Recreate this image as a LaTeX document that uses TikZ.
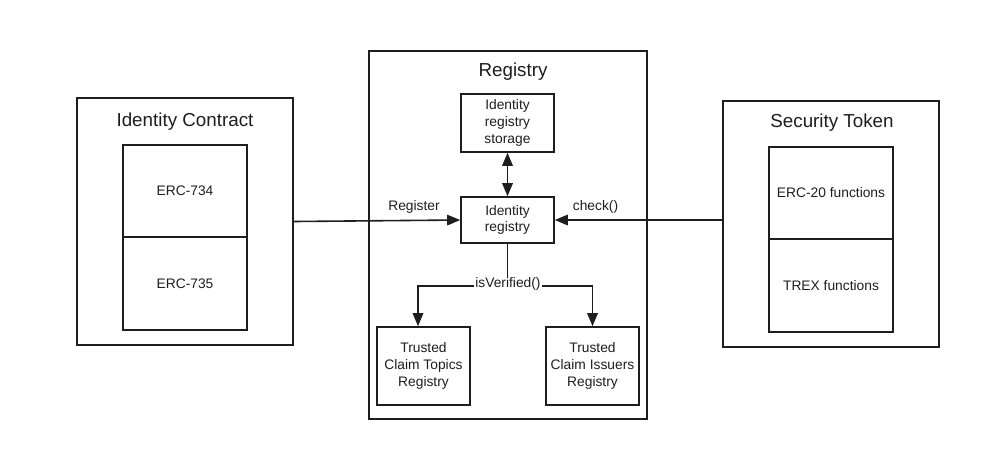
\documentclass[tikz,border=0pt]{standalone}
\usepackage{fontspec}
\setmainfont{Liberation Sans}
\usetikzlibrary{arrows.meta,calc}
\definecolor{ink}{HTML}{1E1E1E}
\begin{document}
\begin{tikzpicture}[x=1pt,y=-1pt,
  box/.style={draw=ink,line width=1.6pt,rectangle,inner sep=0pt,align=center,text=ink,font=\fontsize{13.8}{16.8}\selectfont},
  ttl/.style={text=ink,inner sep=0pt,font=\fontsize{18.8}{22}\selectfont},
  lbl/.style={text=ink,inner sep=1pt,font=\fontsize{13.8}{16}\selectfont},
  conn/.style={draw=ink,line width=1.6pt},
  arr/.style={conn,-{Triangle[length=13pt,width=10.5pt]}},
  darr/.style={conn,{Triangle[length=13pt,width=10.5pt]}-{Triangle[length=13pt,width=10.5pt]}}]
\useasboundingbox (0,0) rectangle (998,472);
\fill[white] (0,0) rectangle (998,472);
% Identity Contract
\node[box,minimum width=216pt,minimum height=247pt] (ic) at (185,221.5) {};
\node[ttl] (ict) at (185,122) {Identity Contract};
\node[box,minimum width=124pt,minimum height=92pt] (erc734) at (185,191) {ERC-734};
\node[box,minimum width=124pt,minimum height=93pt] (erc735) at (185,283.5) {ERC-735};
% Security Token
\node[box,minimum width=216pt,minimum height=246pt] (st) at (831,224) {};
\node[ttl] (stt) at (832,123) {Security Token};
\node[box,minimum width=124pt,minimum height=92pt] (erc20) at (831,193) {ERC-20 functions};
\node[box,minimum width=124pt,minimum height=93pt] (trex) at (831,285.5) {TREX functions};
% Registry
\node[box,minimum width=278pt,minimum height=368pt] (reg) at (508,235) {};
\node[ttl] (regt) at (513,72) {Registry};
\node[box,minimum width=93pt,minimum height=58pt] (stor) at (507.5,123) {Identity\\registry\\storage};
\node[box,minimum width=93pt,minimum height=46pt] (idreg) at (507.5,220) {Identity\\registry};
\node[box,minimum width=93pt,minimum height=78pt] (tct) at (423.5,366) {Trusted\\Claim Topics\\Registry};
\node[box,minimum width=93pt,minimum height=78pt] (tci) at (592.5,366) {Trusted\\Claim Issuers\\Registry};
% connectors
\draw[darr] (stor.south) -- (idreg.north);
\draw[arr] (ic.east) -- (idreg.west);
\draw[arr] (idreg.east -| st.west) -- (idreg.east);
\coordinate (jn) at (507.5,286);
\draw[conn] (idreg.south) -- (jn);
\draw[arr] (jn) -| ([xshift=-5.5pt]tct.north);
\draw[arr] (jn) -| (tci.north);
\node[lbl,fill=white] (isv) at (508,284) {isVerified()};
\node[lbl] (regl) at (414,207) {Register};
\node[lbl] (chk) at (595.5,207) {check()};
\end{tikzpicture}
\end{document}
